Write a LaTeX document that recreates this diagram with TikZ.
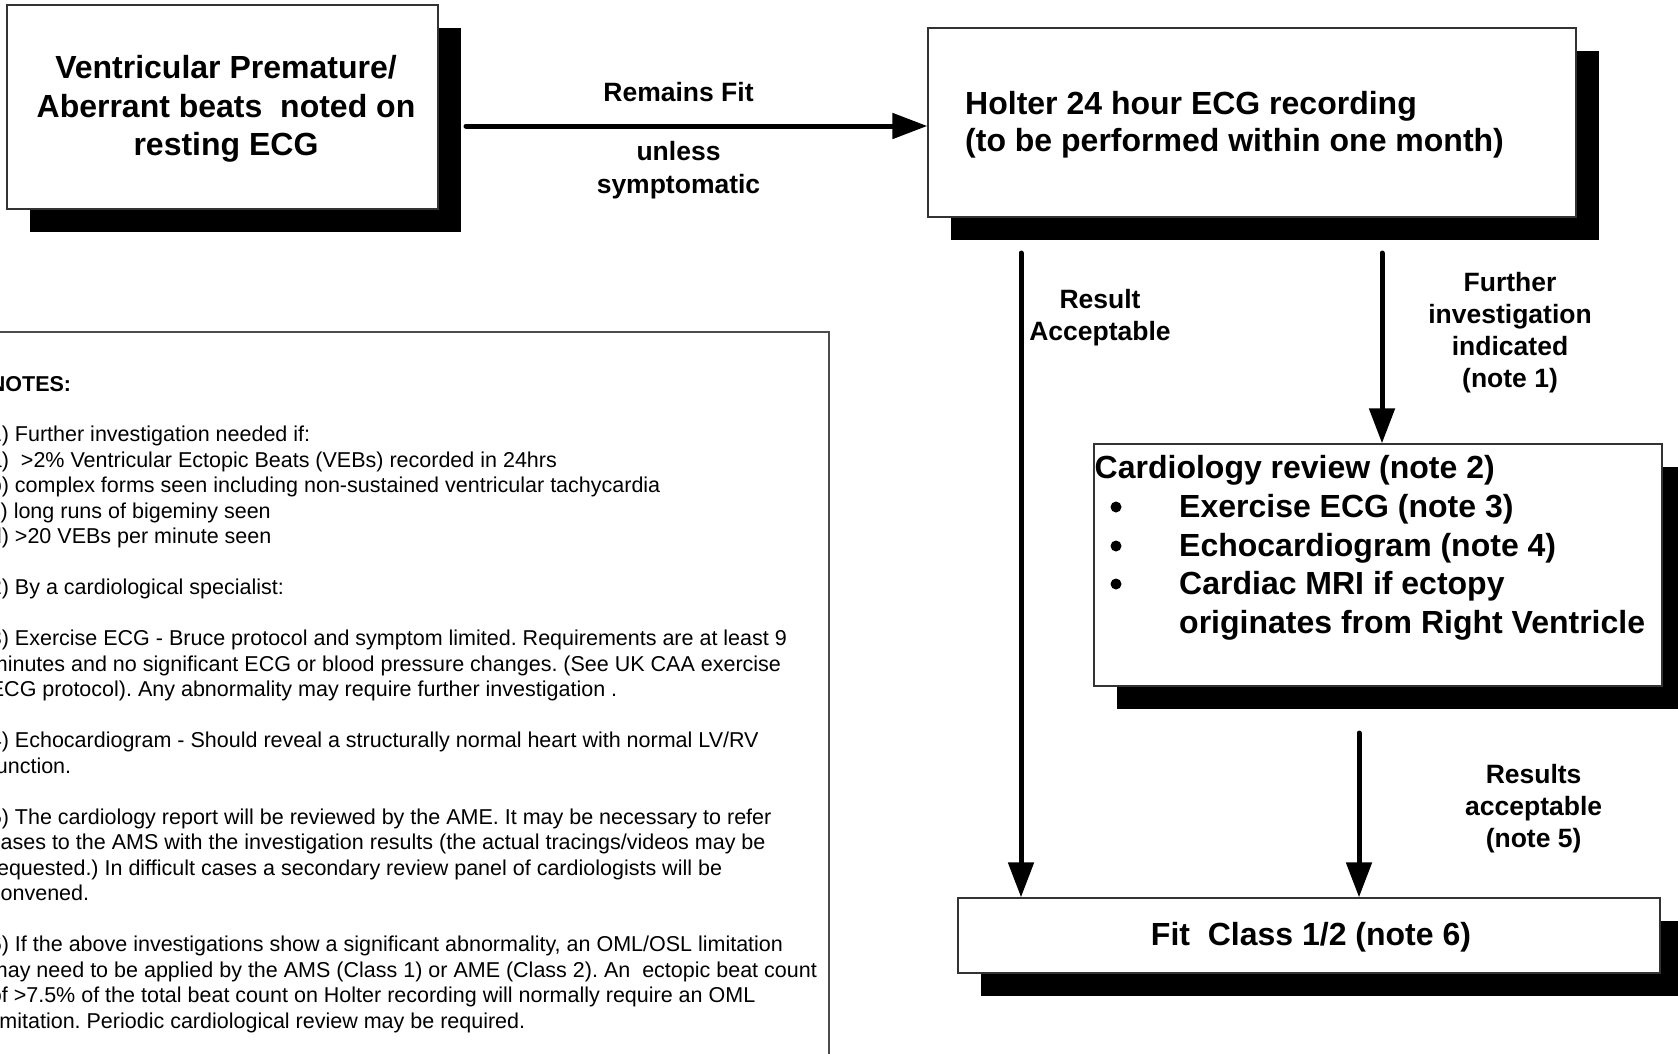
\documentclass[tikz,border=0pt]{standalone}
\usepackage{fontspec}
\setmainfont{Liberation Sans}
\usetikzlibrary{arrows.meta,shadows}
\frenchspacing
\newcommand\notesline[2]{\node[note] (nl#1) at (-10.3,{391+25.48*#1}) {#2};}
\begin{document}
\begin{tikzpicture}[x=1pt,y=-1pt,
  box/.style={draw=black!80, line width=1.3pt, fill=white, inner sep=0pt,
     drop shadow={shadow xshift=23pt, shadow yshift=-23pt, opacity=1, fill=black}},
  big/.style={font=\fontsize{32}{36}\selectfont\bfseries, inner sep=0pt},
  lab/.style={font=\fontsize{26.5}{31}\selectfont\bfseries, inner sep=0pt, anchor=base},
  note/.style={font=\fontsize{21.5}{25}\selectfont, inner sep=0pt, anchor=base west},
  conn/.style={line width=5pt, line cap=round, -{Triangle[length=35pt,width=25pt]}},
  bulletdot/.style={circle, fill=black, inner sep=0pt, minimum size=11pt}]
\useasboundingbox (0,0) rectangle (1678,1053);
\fill[white] (0,0) rectangle (1678,1053);
\clip (0,0) rectangle (1678,1053);

% boxes
\node[box, minimum width=431pt, minimum height=204pt] (b1) at (222.5,107) {};
\node[box, minimum width=648pt, minimum height=189pt] (b2) at (1252,122.5) {};
\node[box, minimum width=568pt, minimum height=242pt] (b3) at (1378,565) {};
\node[box, minimum width=702pt, minimum height=75pt] (b4) at (1309,935.5) {};

% box 1 text
\node[big, anchor=base] (t1a) at (226,78.5) {Ventricular Premature/};
\node[big, anchor=base] (t1b) at (226,117) {Aberrant beats\ \ noted on};
\node[big, anchor=base] (t1c) at (226,155.5) {resting ECG};

% box 2 text
\node[big, anchor=base west] (t2a) at (965,114) {Holter 24 hour ECG recording};
\node[big, anchor=base west] (t2b) at (965,151) {(to be performed within one month)};

% box 3 text
\node[big, anchor=base west] (t3a) at (1094.5,478) {Cardiology review (note 2)};
\node[bulletdot] (d1) at (1116,507) {};
\node[bulletdot] (d2) at (1116,546) {};
\node[bulletdot] (d3) at (1116,584) {};
\node[big, anchor=base west] (t3b) at (1179,517) {Exercise ECG (note 3)};
\node[big, anchor=base west] (t3c) at (1179,556) {Echocardiogram (note 4)};
\node[big, anchor=base west] (t3d) at (1179,594) {Cardiac MRI if ectopy};
\node[big, anchor=base west] (t3e) at (1179,633) {originates from Right Ventricle};

% box 4 text
\node[big, anchor=base] (t4) at (1311,945) {Fit\ \ Class 1/2 (note 6)};

% connectors
\coordinate (a1s) at (466,126);
\coordinate (a2s) at (1021,253);
\coordinate (a3s) at (1382,253);
\coordinate (a4s) at (1359,733);
\draw[conn] (a1s) -- (a1s -| b2.west);
\draw[conn] (a2s) -- (a2s |- b4.north);
\draw[conn] (a3s) -- (a3s |- b3.north);
\draw[conn] (a4s) -- (a4s |- b4.north);

% connector labels
\node[lab] (l1) at (678.5,101.5) {Remains Fit};
\node[lab] (l2a) at (678.5,160.5) {unless};
\node[lab] (l2b) at (678.5,193) {symptomatic};
\node[lab] (l3a) at (1100,308) {Result};
\node[lab] (l3b) at (1100,340) {Acceptable};
\node[lab] (l4a) at (1510,291) {Further};
\node[lab] (l4b) at (1510,323) {investigation};
\node[lab] (l4c) at (1510,355) {indicated};
\node[lab] (l4d) at (1510,387) {(note 1)};
\node[lab] (l5a) at (1533.6,783) {Results};
\node[lab] (l5b) at (1533.6,815) {acceptable};
\node[lab] (l5c) at (1533.6,847) {(note 5)};

% notes box
\draw[draw=black!70, line width=1.2pt] (-20,332) rectangle (829,1080);
\notesline{0}{\textbf{NOTES:}}
\notesline{2}{1) Further investigation needed if:}
\notesline{3}{a)\ \ >2\% Ventricular Ectopic Beats (VEBs) recorded in 24hrs}
\notesline{4}{b) complex forms seen including non-sustained ventricular tachycardia}
\notesline{5}{c) long runs of bigeminy seen}
\notesline{6}{d) >20 VEBs per minute seen}
\notesline{8}{2) By a cardiological specialist:}
\notesline{10}{3) Exercise ECG - Bruce protocol and symptom limited. Requirements are at least 9}
\notesline{11}{minutes and no significant ECG or blood pressure changes. (See UK CAA exercise}
\notesline{12}{ECG protocol). Any abnormality may require further investigation .}
\notesline{14}{4) Echocardiogram - Should reveal a structurally normal heart with normal LV/RV}
\notesline{15}{function.}
\notesline{17}{5) The cardiology report will be reviewed by the AME. It may be necessary to refer}
\notesline{18}{cases to the AMS with the investigation results (the actual tracings/videos may be}
\notesline{19}{requested.) In difficult cases a secondary review panel of cardiologists will be}
\notesline{20}{convened.}
\notesline{22}{6) If the above investigations show a significant abnormality, an OML/OSL limitation}
\notesline{23}{may need to be applied by the AMS (Class 1) or AME (Class 2). An\ \ ectopic beat count}
\notesline{24}{of >7.5\% of the total beat count on Holter recording will normally require an OML}
\notesline{25}{limitation. Periodic cardiological review may be required.}
\end{tikzpicture}
\end{document}
